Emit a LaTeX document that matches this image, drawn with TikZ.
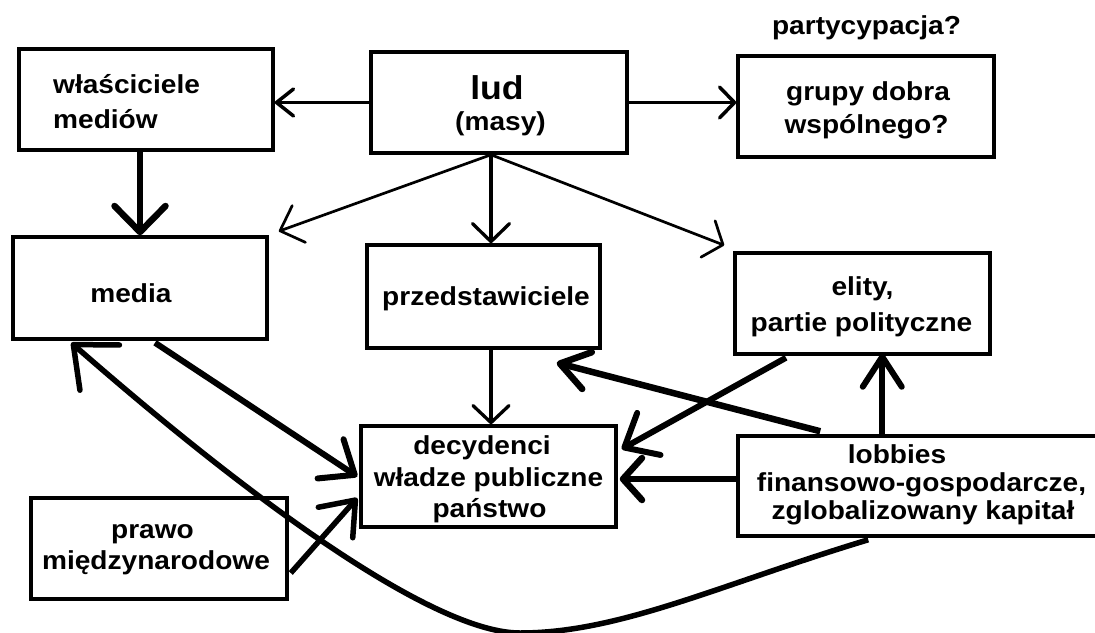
\documentclass[tikz,border=0pt]{standalone}
\usepackage{fontspec}
\setmainfont{Liberation Sans}[FakeStretch=1.08]
\usetikzlibrary{arrows.meta,calc}

\tikzset{
  box/.style={draw, line width=3.5pt, inner sep=0pt, minimum width=#1},
  box/.default=255pt,
  txt/.style={font=\fontsize{26}{30}\selectfont\bfseries, inner sep=0pt, anchor=base},
  big/.style={font=\fontsize{33}{36}\selectfont\bfseries, inner sep=0pt, anchor=base},
  barb/.style n args={3}{line width=#1pt, -{Straight Barb[length=#2pt,width=#3pt,round]}},
}

\begin{document}
\begin{tikzpicture}[x=1pt,y=-1pt]
\useasboundingbox (0,0) rectangle (1095,632);

% boxes
\node[box=254pt, minimum height=101pt] (wlasc) at (146,99.5) {};
\node[box=256pt, minimum height=101pt] (lud) at (499,102.5) {};
\node[box=256pt, minimum height=101pt] (grupy) at (866,106.5) {};
\node[box=254pt, minimum height=102pt] (media) at (140,288) {};
\node[box=233pt, minimum height=103pt] (przed) at (483.5,296.5) {};
\node[box=255pt, minimum height=101pt] (elity) at (862.5,303.5) {};
\node[box=255pt, minimum height=101pt] (decyd) at (488.5,476.5) {};
\node[box=256pt, minimum height=101pt] (prawo) at (159,548.5) {};
\node[box=359pt, minimum height=100pt] (lobby) at (917.5,486) {};

% texts
\node[txt, anchor=base west] (tWlasc1) at (53,93) {właściciele};
\node[txt, anchor=base west] (tWlasc2) at (53,128) {mediów};
\node[big] (tLud) at (497,99) {lud};
\node[txt] (tMasy) at (500.5,130.5) {(masy)};
\node[txt] (tPart) at (866.5,34) {partycypacja?};
\node[txt] (tGrupy1) at (868,100.5) {grupy dobra};
\node[txt] (tGrupy2) at (866.5,133) {wspólnego?};
\node[txt] (tMedia) at (131,302) {media};
\node[txt] (tPrzed) at (486,305) {przedstawiciele};
\node[txt] (tElity1) at (862.5,295) {elity,};
\node[txt] (tElity2) at (861.5,331) {partie polityczne};
\node[txt] (tDec1) at (482,454) {decydenci};
\node[txt] (tDec2) at (488.5,486) {władze publiczne};
\node[txt] (tDec3) at (489.5,517) {państwo};
\node[txt] (tPrawo1) at (152.5,538) {prawo};
\node[txt] (tPrawo2) at (156,569) {międzynarodowe};
\node[txt] (tLob1) at (897,463) {lobbies};
\node[txt] (tLob2) at (921.5,491) {finansowo-gospodarcze,};
\node[txt] (tLob3) at (923,519) {zglobalizowany kapitał};

% connectors from the people
\draw[barb={3.5}{17}{27}] (lud.west) -- (lud.west -| wlasc.east);
\draw[barb={3.5}{15}{31}] (lud.east) -- (lud.east -| grupy.west);
\draw[barb={2.7}{20}{39}] ($(lud.south)+(-8,0)$) -- ($(media.north east)+(10,-4)$);
\draw[barb={3.3}{18}{37}] ($(lud.south)+(-8,0)$) -- ($(przed.north)+(7.5,0)$);
\draw[barb={2.7}{16}{39}] ($(lud.south)+(-8,0)$) -- ($(elity.north west)+(-9,-6)$);

% owners to media
\draw[barb={6.5}{26}{51}] (wlasc.south -| media.north) -- (media.north);

% into the decision makers
\draw[barb={3.3}{17}{36}] ($(przed.south)+(7.5,0)$) -- ($(decyd.north)+(2.5,0)$);
\draw[barb={6}{29}{47}] ($(media.south)+(15,2)$) -- ($(decyd.west)+(-2,0)$);
\draw[barb={5.5}{30}{46}] ($(prawo.east)+(2,24.5)$) -- ($(decyd.west)+(-2,21.5)$);
\draw[barb={6}{28}{48}] ($(elity.south)+(-76.5,2)$) -- ($(decyd.east)+(4,-27.5)$);
\draw[barb={6.5}{19}{42}] ($(lobby.west)+(0,-7)$) -- ($(decyd.east |- lobby.west)+(2,-7)$);

% lobbies to representatives and elites
\draw[barb={6.5}{28}{38}] ($(lobby.north west)+(84,-3)$) -- ($(przed.south east)+(-45,13)$);
\draw[barb={6}{30}{39}] ($(lobby.north west)+(146,0)$) -- ($(elity.south west)+(149,-2)$);

% lobbies back to media, sweeping under the bottom
\draw[barb={5.5}{35}{60}] ($(lobby.south west)+(132,2)$)
  .. controls (720,584.5) and (620,633) .. (520,633)
  .. controls (440,633) and (273,519) .. ($(media.south west)+(60,2)$);
\end{tikzpicture}
\end{document}
